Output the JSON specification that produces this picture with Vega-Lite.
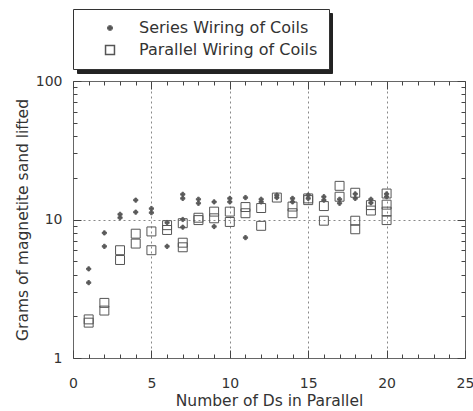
{
  "$schema": "https://vega.github.io/schema/vega-lite/v6.json",
  "width": 392,
  "height": 277,
  "autosize": "none",
  "padding": {"left": 73, "top": 81, "right": 8, "bottom": 53},
  "config": {
    "font": "DejaVu Sans",
    "view": {"stroke": "#666", "strokeWidth": 1},
    "axis": {"domain": false, "ticks": true, "tickColor": "#444", "tickWidth": 1, "tickOpacity": 1, "labelColor": "#333", "titleColor": "#333", "labelFontSize": 14, "titleFontSize": 15.5, "titleFontWeight": "normal", "labelFlush": false, "labelOverlap": false}
  },
  "datasets": {
    "series": [
      {"n": 1, "grams": 4.4, "wiring": "Series Wiring of Coils"},
      {"n": 1, "grams": 3.5, "wiring": "Series Wiring of Coils"},
      {"n": 2, "grams": 8.0, "wiring": "Series Wiring of Coils"},
      {"n": 2, "grams": 6.4, "wiring": "Series Wiring of Coils"},
      {"n": 3, "grams": 10.3, "wiring": "Series Wiring of Coils"},
      {"n": 3, "grams": 10.9, "wiring": "Series Wiring of Coils"},
      {"n": 4, "grams": 13.8, "wiring": "Series Wiring of Coils"},
      {"n": 4, "grams": 11.3, "wiring": "Series Wiring of Coils"},
      {"n": 5, "grams": 11.2, "wiring": "Series Wiring of Coils"},
      {"n": 5, "grams": 12.0, "wiring": "Series Wiring of Coils"},
      {"n": 6, "grams": 6.4, "wiring": "Series Wiring of Coils"},
      {"n": 6, "grams": 9.5, "wiring": "Series Wiring of Coils"},
      {"n": 7, "grams": 14.2, "wiring": "Series Wiring of Coils"},
      {"n": 7, "grams": 15.2, "wiring": "Series Wiring of Coils"},
      {"n": 7, "grams": 10.0, "wiring": "Series Wiring of Coils"},
      {"n": 7, "grams": 8.8, "wiring": "Series Wiring of Coils"},
      {"n": 8, "grams": 13.1, "wiring": "Series Wiring of Coils"},
      {"n": 8, "grams": 14.0, "wiring": "Series Wiring of Coils"},
      {"n": 9, "grams": 13.4, "wiring": "Series Wiring of Coils"},
      {"n": 9, "grams": 8.9, "wiring": "Series Wiring of Coils"},
      {"n": 10, "grams": 13.4, "wiring": "Series Wiring of Coils"},
      {"n": 10, "grams": 14.2, "wiring": "Series Wiring of Coils"},
      {"n": 11, "grams": 14.4, "wiring": "Series Wiring of Coils"},
      {"n": 11, "grams": 7.4, "wiring": "Series Wiring of Coils"},
      {"n": 12, "grams": 13.4, "wiring": "Series Wiring of Coils"},
      {"n": 12, "grams": 14.0, "wiring": "Series Wiring of Coils"},
      {"n": 13, "grams": 14.4, "wiring": "Series Wiring of Coils"},
      {"n": 13, "grams": 15.0, "wiring": "Series Wiring of Coils"},
      {"n": 14, "grams": 13.4, "wiring": "Series Wiring of Coils"},
      {"n": 14, "grams": 14.2, "wiring": "Series Wiring of Coils"},
      {"n": 15, "grams": 14.2, "wiring": "Series Wiring of Coils"},
      {"n": 15, "grams": 15.0, "wiring": "Series Wiring of Coils"},
      {"n": 16, "grams": 13.8, "wiring": "Series Wiring of Coils"},
      {"n": 16, "grams": 14.6, "wiring": "Series Wiring of Coils"},
      {"n": 17, "grams": 13.1, "wiring": "Series Wiring of Coils"},
      {"n": 17, "grams": 14.0, "wiring": "Series Wiring of Coils"},
      {"n": 18, "grams": 14.2, "wiring": "Series Wiring of Coils"},
      {"n": 18, "grams": 15.3, "wiring": "Series Wiring of Coils"},
      {"n": 19, "grams": 14.0, "wiring": "Series Wiring of Coils"},
      {"n": 19, "grams": 13.2, "wiring": "Series Wiring of Coils"},
      {"n": 20, "grams": 14.6, "wiring": "Series Wiring of Coils"},
      {"n": 20, "grams": 15.3, "wiring": "Series Wiring of Coils"}
    ],
    "parallel": [
      {"n": 1, "grams": 1.9, "wiring": "Parallel Wiring of Coils"},
      {"n": 1, "grams": 1.8, "wiring": "Parallel Wiring of Coils"},
      {"n": 2, "grams": 2.5, "wiring": "Parallel Wiring of Coils"},
      {"n": 2, "grams": 2.2, "wiring": "Parallel Wiring of Coils"},
      {"n": 3, "grams": 6.0, "wiring": "Parallel Wiring of Coils"},
      {"n": 3, "grams": 5.1, "wiring": "Parallel Wiring of Coils"},
      {"n": 4, "grams": 7.9, "wiring": "Parallel Wiring of Coils"},
      {"n": 4, "grams": 6.7, "wiring": "Parallel Wiring of Coils"},
      {"n": 5, "grams": 8.2, "wiring": "Parallel Wiring of Coils"},
      {"n": 5, "grams": 6.0, "wiring": "Parallel Wiring of Coils"},
      {"n": 6, "grams": 9.1, "wiring": "Parallel Wiring of Coils"},
      {"n": 6, "grams": 8.4, "wiring": "Parallel Wiring of Coils"},
      {"n": 7, "grams": 9.4, "wiring": "Parallel Wiring of Coils"},
      {"n": 7, "grams": 6.8, "wiring": "Parallel Wiring of Coils"},
      {"n": 7, "grams": 6.3, "wiring": "Parallel Wiring of Coils"},
      {"n": 8, "grams": 9.9, "wiring": "Parallel Wiring of Coils"},
      {"n": 8, "grams": 10.3, "wiring": "Parallel Wiring of Coils"},
      {"n": 9, "grams": 11.4, "wiring": "Parallel Wiring of Coils"},
      {"n": 9, "grams": 10.2, "wiring": "Parallel Wiring of Coils"},
      {"n": 10, "grams": 11.4, "wiring": "Parallel Wiring of Coils"},
      {"n": 10, "grams": 9.6, "wiring": "Parallel Wiring of Coils"},
      {"n": 11, "grams": 12.3, "wiring": "Parallel Wiring of Coils"},
      {"n": 11, "grams": 11.1, "wiring": "Parallel Wiring of Coils"},
      {"n": 12, "grams": 12.1, "wiring": "Parallel Wiring of Coils"},
      {"n": 12, "grams": 9.0, "wiring": "Parallel Wiring of Coils"},
      {"n": 13, "grams": 14.4, "wiring": "Parallel Wiring of Coils"},
      {"n": 14, "grams": 12.4, "wiring": "Parallel Wiring of Coils"},
      {"n": 14, "grams": 11.1, "wiring": "Parallel Wiring of Coils"},
      {"n": 15, "grams": 14.2, "wiring": "Parallel Wiring of Coils"},
      {"n": 15, "grams": 13.8, "wiring": "Parallel Wiring of Coils"},
      {"n": 16, "grams": 12.5, "wiring": "Parallel Wiring of Coils"},
      {"n": 16, "grams": 9.8, "wiring": "Parallel Wiring of Coils"},
      {"n": 17, "grams": 17.5, "wiring": "Parallel Wiring of Coils"},
      {"n": 17, "grams": 14.6, "wiring": "Parallel Wiring of Coils"},
      {"n": 18, "grams": 15.6, "wiring": "Parallel Wiring of Coils"},
      {"n": 18, "grams": 9.8, "wiring": "Parallel Wiring of Coils"},
      {"n": 18, "grams": 8.5, "wiring": "Parallel Wiring of Coils"},
      {"n": 19, "grams": 12.7, "wiring": "Parallel Wiring of Coils"},
      {"n": 19, "grams": 11.6, "wiring": "Parallel Wiring of Coils"},
      {"n": 20, "grams": 15.4, "wiring": "Parallel Wiring of Coils"},
      {"n": 20, "grams": 12.8, "wiring": "Parallel Wiring of Coils"},
      {"n": 20, "grams": 11.4, "wiring": "Parallel Wiring of Coils"},
      {"n": 20, "grams": 9.9, "wiring": "Parallel Wiring of Coils"}
    ]
  },
  "resolve": {"axis": {"x": "independent", "y": "independent"}},
  "layer": [
    {
      "data": {"name": "series"},
      "mark": {"type": "point", "stroke": "#555", "strokeWidth": 0.8, "opacity": 1},
      "encoding": {
        "x": {
          "field": "n", "type": "quantitative",
          "scale": {"domain": [0, 25], "nice": false, "zero": false},
          "axis": {
            "orient": "bottom",
            "title": "Number of Ds in Parallel",
            "titlePadding": 3,
            "values": [0, 5, 10, 15, 20, 25],
            "ticks": false,
            "labelPadding": 18,
            "grid": true,
            "gridColor": "#888",
            "gridDash": [2, 3],
            "gridOpacity": {"condition": {"test": "datum.value > 0 && datum.value < 25", "value": 1}, "value": 0}
          }
        },
        "y": {
          "field": "grams", "type": "quantitative",
          "scale": {"type": "log", "domain": [1, 100], "nice": false},
          "axis": {
            "orient": "left",
            "title": "Grams of magnetite sand lifted",
            "titlePadding": 5,
            "format": "d",
            "values": [1, 10, 100],
            "ticks": false,
            "labelPadding": 11,
            "grid": true,
            "gridColor": "#888",
            "gridDash": [2, 3],
            "gridOpacity": {"condition": {"test": "datum.value == 10", "value": 1}, "value": 0}
          }
        },
        "shape": {
          "field": "wiring", "type": "nominal",
          "scale": {"domain": ["Series Wiring of Coils", "Parallel Wiring of Coils"], "range": ["cross", "square"]},
          "legend": {
            "title": null, "orient": "none", "legendX": 0, "legendY": -72, "zindex": 2,
            "fillColor": "#fff", "strokeColor": "#333", "padding": 11,
            "rowPadding": 6, "symbolOffset": 18, "labelOffset": 21,
            "labelFontSize": 16, "labelColor": "#333", "labelLimit": 400
          }
        },
        "size": {
          "field": "wiring", "type": "ordinal",
          "scale": {"domain": ["Series Wiring of Coils", "Parallel Wiring of Coils"], "range": [18, 80]}
        },
        "fill": {
          "field": "wiring", "type": "nominal",
          "scale": {"domain": ["Series Wiring of Coils", "Parallel Wiring of Coils"], "range": ["#5a5a5a", "transparent"]}
        },
        "opacity": {
          "field": "wiring", "type": "ordinal",
          "scale": {"domain": ["Parallel Wiring of Coils", "Series Wiring of Coils"], "range": [1, 1]},
          "legend": {
            "title": null, "orient": "none", "legendX": 4, "legendY": -68, "zindex": 1,
            "fillColor": "#222", "strokeColor": "#222", "padding": 11,
            "rowPadding": 6, "symbolOffset": 18, "labelOffset": 199, "symbolSize": 80,
            "symbolType": "square",
            "symbolFillColor": "#222", "symbolStrokeColor": "#222",
            "labelFontSize": 16, "labelColor": "#222",
            "labelExpr": "''"
          }
        }
      }
    },
    {
      "data": {"name": "parallel"},
      "mark": {"type": "point", "stroke": "#555", "strokeWidth": 1, "opacity": 1},
      "encoding": {
        "x": {
          "field": "n", "type": "quantitative",
          "axis": {
            "orient": "bottom", "title": null, "labels": false, "grid": false,
            "values": [0, 5, 10, 15, 20, 25], "tickSize": 8, "offset": -8
          }
        },
        "y": {
          "field": "grams", "type": "quantitative",
          "axis": {
            "orient": "left", "title": null, "labels": false, "grid": false,
            "values": [1, 10, 100], "tickSize": 8, "offset": -8
          }
        },
        "shape": {"field": "wiring", "type": "nominal"},
        "size": {"field": "wiring", "type": "ordinal"},
        "fill": {"field": "wiring", "type": "nominal"},
        "opacity": {"field": "wiring", "type": "ordinal"}
      }
    },
    {
      "data": {"name": "series"},
      "mark": {"type": "point", "opacity": 0},
      "encoding": {
        "x": {
          "field": "n", "type": "quantitative",
          "axis": {
            "orient": "bottom", "title": null, "labels": false, "grid": false,
            "values": [1,2,3,4,6,7,8,9,11,12,13,14,16,17,18,19,21,22,23,24], "tickSize": 4, "offset": -4
          }
        },
        "y": {
          "field": "grams", "type": "quantitative",
          "axis": {
            "orient": "left", "title": null, "labels": false, "grid": false,
            "values": [2,3,4,5,6,7,8,9,20,30,40,50,60,70,80,90], "tickSize": 4, "offset": -4
          }
        }
      }
    },
    {
      "data": {"name": "series"},
      "mark": {"type": "point", "opacity": 0},
      "encoding": {
        "x": {
          "field": "n", "type": "quantitative",
          "axis": {
            "orient": "top", "title": null, "labels": false, "grid": false,
            "values": [0, 5, 10, 15, 20, 25], "tickSize": 8, "offset": -8
          }
        },
        "y": {
          "field": "grams", "type": "quantitative",
          "axis": {
            "orient": "right", "title": null, "labels": false, "grid": false,
            "values": [1, 10, 100], "tickSize": 8, "offset": -8
          }
        }
      }
    },
    {
      "data": {"name": "series"},
      "mark": {"type": "point", "opacity": 0},
      "encoding": {
        "x": {
          "field": "n", "type": "quantitative",
          "axis": {
            "orient": "top", "title": null, "labels": false, "grid": false,
            "values": [1,2,3,4,6,7,8,9,11,12,13,14,16,17,18,19,21,22,23,24], "tickSize": 4, "offset": -4
          }
        },
        "y": {
          "field": "grams", "type": "quantitative",
          "axis": {
            "orient": "right", "title": null, "labels": false, "grid": false,
            "values": [2,3,4,5,6,7,8,9,20,30,40,50,60,70,80,90], "tickSize": 4, "offset": -4
          }
        }
      }
    }
  ]
}
